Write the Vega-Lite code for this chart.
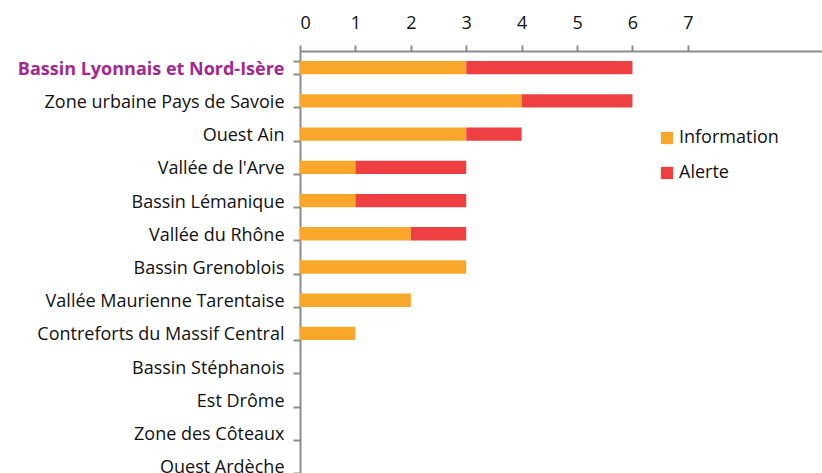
{
  "$schema": "https://vega.github.io/schema/vega-lite/v6.json",
  "autosize": {"type": "none"},
  "padding": {"left": 300, "top": 51, "right": 0, "bottom": 0},
  "width": 522,
  "height": 432,
  "background": "white",
  "config": {"view": {"stroke": null}, "font": "Open Sans"},
  "data": {"values": [
    {"zone": "Bassin Lyonnais et Nord-Isère", "type": "Information", "n": 3},
    {"zone": "Bassin Lyonnais et Nord-Isère", "type": "Alerte", "n": 3},
    {"zone": "Zone urbaine Pays de Savoie", "type": "Information", "n": 4},
    {"zone": "Zone urbaine Pays de Savoie", "type": "Alerte", "n": 2},
    {"zone": "Ouest Ain", "type": "Information", "n": 3},
    {"zone": "Ouest Ain", "type": "Alerte", "n": 1},
    {"zone": "Vallée de l'Arve", "type": "Information", "n": 1},
    {"zone": "Vallée de l'Arve", "type": "Alerte", "n": 2},
    {"zone": "Bassin Lémanique", "type": "Information", "n": 1},
    {"zone": "Bassin Lémanique", "type": "Alerte", "n": 2},
    {"zone": "Vallée du Rhône", "type": "Information", "n": 2},
    {"zone": "Vallée du Rhône", "type": "Alerte", "n": 1},
    {"zone": "Bassin Grenoblois ", "type": "Information", "n": 3},
    {"zone": "Bassin Grenoblois ", "type": "Alerte", "n": 0},
    {"zone": "Vallée Maurienne Tarentaise", "type": "Information", "n": 2},
    {"zone": "Vallée Maurienne Tarentaise", "type": "Alerte", "n": 0},
    {"zone": "Contreforts du Massif Central", "type": "Information", "n": 1},
    {"zone": "Contreforts du Massif Central", "type": "Alerte", "n": 0},
    {"zone": "Bassin Stéphanois", "type": "Information", "n": 0},
    {"zone": "Bassin Stéphanois", "type": "Alerte", "n": 0},
    {"zone": "Est Drôme", "type": "Information", "n": 0},
    {"zone": "Est Drôme", "type": "Alerte", "n": 0},
    {"zone": "Zone des Côteaux", "type": "Information", "n": 0},
    {"zone": "Zone des Côteaux", "type": "Alerte", "n": 0},
    {"zone": "Ouest Ardèche", "type": "Information", "n": 0},
    {"zone": "Ouest Ardèche", "type": "Alerte", "n": 0}
  ]},
  "transform": [{"filter": "datum.n > 0"}],
  "mark": {"type": "bar"},
  "encoding": {
    "y": {
      "field": "zone", "type": "nominal",
      "sort": ["Bassin Lyonnais et Nord-Isère", "Zone urbaine Pays de Savoie", "Ouest Ain", "Vallée de l'Arve", "Bassin Lémanique", "Vallée du Rhône", "Bassin Grenoblois ", "Vallée Maurienne Tarentaise", "Contreforts du Massif Central", "Bassin Stéphanois", "Est Drôme", "Zone des Côteaux", "Ouest Ardèche"],
      "scale": {"domain": ["Bassin Lyonnais et Nord-Isère", "Zone urbaine Pays de Savoie", "Ouest Ain", "Vallée de l'Arve", "Bassin Lémanique", "Vallée du Rhône", "Bassin Grenoblois ", "Vallée Maurienne Tarentaise", "Contreforts du Massif Central", "Bassin Stéphanois", "Est Drôme", "Zone des Côteaux", "Ouest Ardèche"], "paddingInner": 0.6, "paddingOuter": 0.3},
      "axis": {
        "title": null,
        "domainColor": "#8c8c8c", "domainWidth": 2,
        "tickColor": "#8c8c8c", "tickWidth": 2, "tickSize": 7,
        "tickBand": "extent",
        "tickOffset": 9.97,
        "labelOffset": 1.5,
        "labelFontSize": 18, "labelPadding": 9,
        "labelColor": {"condition": {"test": "datum.value == 'Bassin Lyonnais et Nord-Isère'", "value": "#A3278F"}, "value": "#111111"},
        "labelFontWeight": {"condition": {"test": "datum.value == 'Bassin Lyonnais et Nord-Isère'", "value": "bold"}, "value": "normal"},
        "labelLimit": 300
      }
    },
    "x": {
      "field": "n", "type": "quantitative", "stack": "zero",
      "scale": {"domain": [0, 9.42], "nice": false},
      "axis": {
        "orient": "top", "title": null, "grid": false,
        "values": [0, 1, 2, 3, 4, 5, 6, 7],
        "domainColor": "#8c8c8c", "domainWidth": 2,
        "tickColor": "#8c8c8c", "tickWidth": 2, "tickSize": 6,
        "labelFontSize": 18, "labelColor": "#111111", "labelPadding": 13
      }
    },
    "color": {
      "field": "type", "type": "nominal",
      "scale": {"domain": ["Information", "Alerte"], "range": ["#F9A72B", "#EE4043"]},
      "legend": {
        "title": null, "orient": "none", "legendX": 358, "legendY": 78,
        "symbolType": "square", "symbolSize": 150, "symbolStrokeWidth": 0,
        "labelFontSize": 18, "labelColor": "#111111", "rowPadding": 17, "labelOffset": 3
      }
    },
    "order": {"field": "type", "sort": "descending"}
  }
}
